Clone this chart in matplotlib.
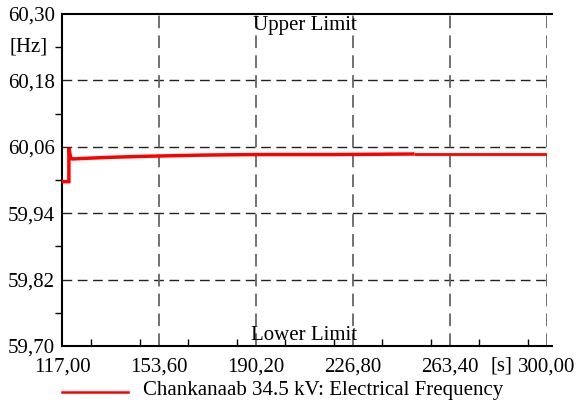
import matplotlib.pyplot as plt
from matplotlib.ticker import MultipleLocator
from matplotlib.lines import Line2D

# Time [s] and frequency [Hz]
time = [117.0, 119.6, 119.6, 120.3, 121.0, 125.0, 135.0, 150.0, 170.0, 190.0, 220.0, 250.0, 300.0]
freq = [59.997, 59.997, 60.058, 60.039, 60.038, 60.039, 60.041, 60.043, 60.045, 60.046, 60.046, 60.047, 60.047]

x_ticks = [117.0, 153.6, 190.2, 226.8, 263.4, 300.0]
y_ticks = [59.70, 59.82, 59.94, 60.06, 60.18, 60.30]
upper_limit = 60.30
lower_limit = 59.70
series_label = "Chankanaab 34.5 kV: Electrical Frequency"

plt.rcParams['font.family'] = ['Liberation Serif', 'DejaVu Serif']
fs = 15

fig = plt.figure(figsize=(5.79, 4.08), dpi=100)
ax = fig.add_axes([62/579, 1 - 346/408, (547 - 62)/579, (346 - 14)/408])

# the trace gets a little thinner after ~250 s in the original export
split = 11
ax.plot(time[:split + 1], freq[:split + 1], color='#ff0000', lw=2.5,
        solid_joinstyle='miter', solid_capstyle='butt', zorder=3)
ax.plot(time[split:], freq[split:], color='#ff0000', lw=2.0,
        solid_capstyle='butt', zorder=3)

ax.set_xlim(117, 300)
ax.set_ylim(lower_limit, upper_limit)

ax.set_xticks(x_ticks)
ax.set_yticks(y_ticks)
ax.xaxis.set_minor_locator(MultipleLocator(18.3))
ax.yaxis.set_minor_locator(MultipleLocator(0.06))
ax.set_xticklabels([('%.2f' % v).replace('.', ',') for v in x_ticks])
ax.set_yticklabels([('%.2f' % v).replace('.', ',') for v in y_ticks])

ax.tick_params(axis='x', which='major', length=0, labelsize=fs, pad=8)
ax.tick_params(axis='y', which='major', length=0, labelsize=fs, pad=5)
ax.tick_params(axis='x', which='minor', direction='in', length=5, width=1)
ax.tick_params(axis='y', which='minor', direction='out', length=5, width=1)

for sp in ['top', 'right', 'bottom']:
    ax.spines[sp].set_visible(False)
ax.spines['left'].set_linewidth(1.5)

# grid
for yv in y_ticks[1:-1]:
    ax.axhline(yv, color='#222222', lw=1.0, ls=(0, (7, 4)), zorder=1)
for xv in x_ticks[1:]:
    ax.axvline(xv, color='#666666', lw=1.3, ls=(0, (7, 4)), zorder=1)

# limits
for lim in (upper_limit, lower_limit):
    ax.plot([117, 301.8], [lim, lim], color='black', lw=1.5, clip_on=False, zorder=2)
ax.text(208.5, 60.297, "Upper Limit", ha='center', va='top', fontsize=fs)
ax.text(208.5, 59.701, "Lower Limit", ha='center', va='bottom', fontsize=fs)

ax.text(-0.03, 60.24, "[Hz]", transform=ax.get_yaxis_transform(), ha='right', va='center', fontsize=fs)
ax.text(278.5, -0.033, "[s]", transform=ax.get_xaxis_transform(), ha='left', va='top', fontsize=fs)

# legend
fig.add_artist(Line2D([62/579, 128/579], [1 - 392/408, 1 - 392/408], color='#ff0000', lw=1.8))
fig.text(143/579, 1 - 391/408, series_label, ha='left', va='center', fontsize=fs)

fig.savefig("out.png", dpi=100)
